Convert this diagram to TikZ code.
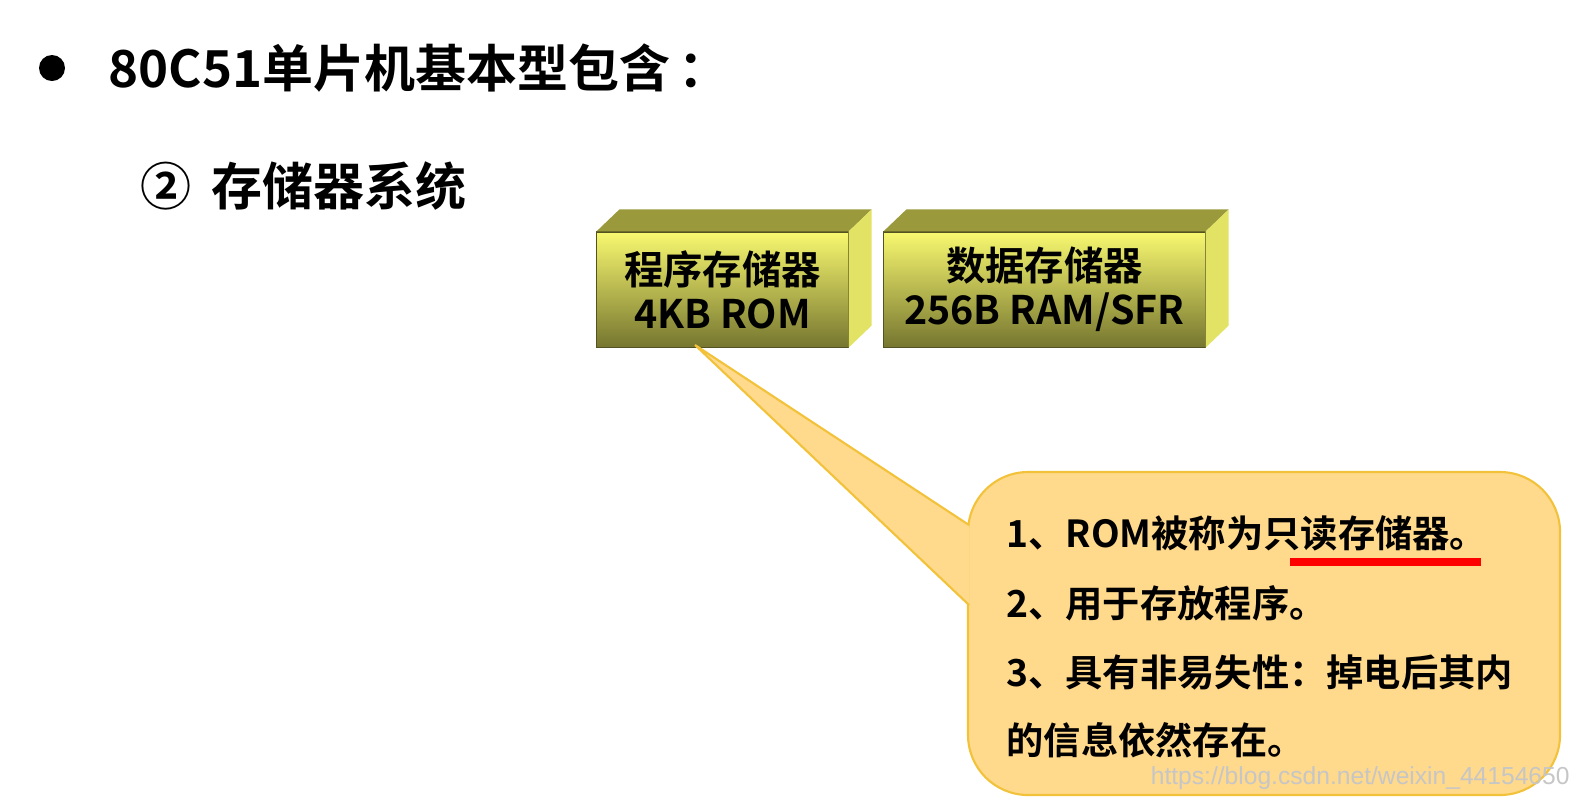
\documentclass[tikz,border=0pt]{standalone}
\usepackage{fontspec}
\setmainfont{Liberation Sans}
\newfontfamily\cjk{Noto Sans CJK SC}[BoldFont={Noto Sans CJK SC Bold}]
\usetikzlibrary{positioning,shapes.geometric}
\definecolor{boxtop}{HTML}{9A9A3C}
\definecolor{boxside}{HTML}{E2E264}
\definecolor{boxhi}{HTML}{F8F870}
\definecolor{boxlo}{HTML}{767630}
\definecolor{callfill}{HTML}{FFD98C}
\definecolor{callline}{HTML}{F2C23A}
\tikzset{
  membox/.style={ draw=boxlo!70!black, line width=0.3pt, top color=boxhi, bottom color=boxlo, minimum height=1.15cm, inner sep=0pt, align=center, font=\cjk\bfseries\fontsize{11.2}{14.5}\selectfont },
  calltext/.style={ anchor=west, font=\cjk\bfseries\fontsize{10.6}{12}\selectfont }
}
\begin{document}
\begin{tikzpicture}[x=0.01cm, y=-0.01cm]
  \useasboundingbox (0,0) rectangle (1580,805);
  % heading
  \fill (52,68) circle (13);
  \node[anchor=west, font=\cjk\bfseries\fontsize{14.5}{17}\selectfont] (title) at (96,68) {80C51单片机基本型包含\,：};
  \node[anchor=west, font=\cjk\bfseries\fontsize{14.5}{17}\selectfont] (sub) at (128,186) {②\, 存储器系统};
  % boxes
  \node[membox, minimum width=2.51cm] (rom) at (722.5,289.5) {程序存储器\\[-2pt]4KB ROM};
  \node[membox, minimum width=3.21cm] (ram) at (1044.5,289.5) {数据存储器\\[-2pt]256B RAM/SFR};
  \foreach \b in {rom,ram}{
    \fill[boxtop] (\b.north west) -- ++(23,-22) -- ([shift={(23,-22)}]\b.north east) -- (\b.north east) -- cycle;
    \fill[boxside] (\b.north east) -- ++(23,-22) -- ([shift={(23,-22)}]\b.south east) -- (\b.south east) -- cycle;
  }
  % callout
  \coordinate (tip) at (695,345);
  \fill[callfill, draw=callline, line width=0.6pt, rounded corners=0.6cm]
    (968,472) rectangle (1560,795);
  \fill[callfill] (tip) -- (969,525) -- (969,605) -- cycle;
  \draw[callline, line width=0.6pt] (969,525) -- (tip) -- (969,605);
  \node[calltext] (l1) at (994,533) {1、ROM被称为只读存储器。};
  \node[calltext] (l2) at (994,603) {2、用于存放程序。};
  \node[calltext] (l3) at (994,672) {3、具有非易失性：掉电后其内};
  \node[calltext] (l4) at (994,740) {的信息依然存在。};
  \draw[red, line width=2.5pt] (1290,562) -- (1481,562);
  \node[anchor=east, text=gray!45, font=\fontsize{7}{8}\selectfont] (wm) at (1582,778) {https://blog.csdn.net/weixin\_44154650};
\end{tikzpicture}
\end{document}
